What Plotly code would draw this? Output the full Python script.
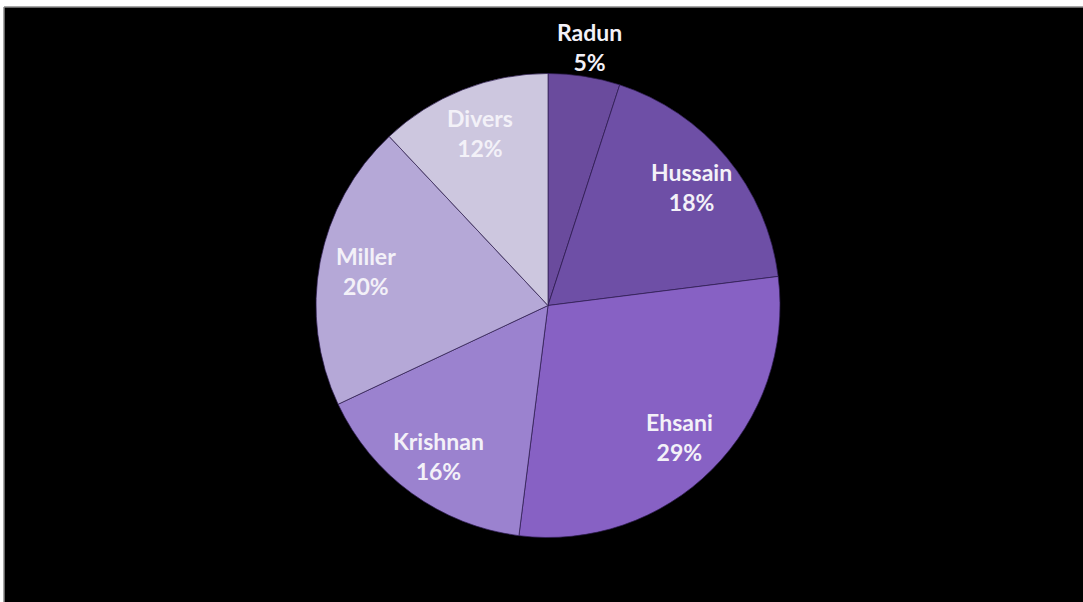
import math
import plotly.graph_objects as go

labels = ["Radun", "Hussain", "Ehsani", "Krishnan", "Miller", "Divers"]
values = [5, 18, 29, 16, 20, 12]
colors = ["#6a4b9d", "#6e4fa6", "#8761c4", "#9b82cf", "#b5a8d7", "#cdc7df"]
label_places = ["outside", "inside", "inside", "inside", "inside", "inside"]

W, H = 1083, 602
ml, mr, mt, mb = 316, 303, 73, 64
pw, ph = W - ml - mr, H - mt - mb

def px_x(p):
    return (p - ml) / pw

def px_y(p):
    return (H - mb - p) / ph

fig = go.Figure(go.Pie(
    labels=labels,
    values=values,
    sort=False,
    direction="clockwise",
    rotation=0,
    marker=dict(colors=colors, line=dict(color="rgba(45,28,80,0.7)", width=1)),
    textinfo="none",
    showlegend=False,
    hoverinfo="label+percent",
))

# Data labels placed along each slice's mid-angle (Excel-style best fit)
total = sum(values)
radius_px = min(pw, ph) / 2
cum = 0
annotations = []
for lab, val, place in zip(labels, values, label_places):
    mid = (cum + val / 2) / total * 2 * math.pi
    cum += val
    f = 0.80 if place == "inside" else 1.13
    dx = math.sin(mid) * radius_px * f
    dy = math.cos(mid) * radius_px * f
    annotations.append(dict(
        x=0.5 + dx / pw, y=0.5 + dy / ph, xref="paper", yref="paper",
        text=f"{lab}<br>{round(val / total * 100)}%",
        showarrow=False, xanchor="center", yanchor="middle",
        font=dict(family="Lato", size=23, color="#f3f1f8", weight="bold"),
    ))

fig.update_layout(
    width=W, height=H,
    margin=dict(l=ml, r=mr, t=mt, b=mb),
    paper_bgcolor="#000000",
    plot_bgcolor="#000000",
    annotations=annotations,
    shapes=[
        dict(type="rect", xref="paper", yref="paper",
             x0=px_x(0), x1=px_x(W), y0=px_y(7), y1=px_y(0),
             fillcolor="#ffffff", line=dict(width=0), layer="above"),
        dict(type="rect", xref="paper", yref="paper",
             x0=px_x(0), x1=px_x(4), y0=px_y(H), y1=px_y(0),
             fillcolor="#ffffff", line=dict(width=0), layer="above"),
        dict(type="line", xref="paper", yref="paper",
             x0=px_x(4), x1=px_x(W), y0=px_y(7), y1=px_y(7),
             line=dict(color="#8a8a8a", width=1.5), layer="above"),
        dict(type="line", xref="paper", yref="paper",
             x0=px_x(4), x1=px_x(4), y0=px_y(H), y1=px_y(7),
             line=dict(color="#8a8a8a", width=1.5), layer="above"),
    ],
)

fig.write_html("out.html")
